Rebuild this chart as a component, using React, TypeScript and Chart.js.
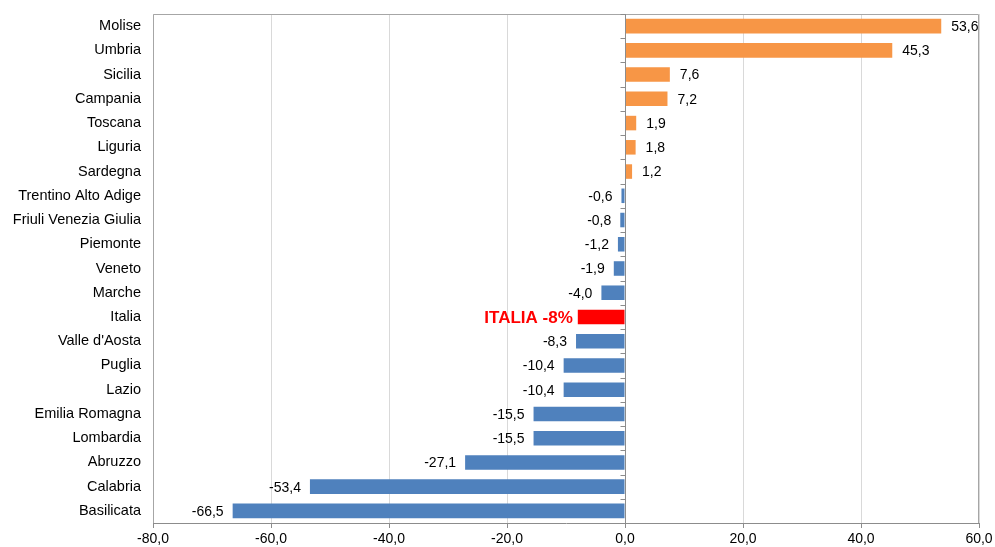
import React, { useEffect, useRef } from "react";
import { Chart, registerables } from "chart.js";

Chart.register(...registerables);

const categories = [
  "Molise", "Umbria", "Sicilia", "Campania", "Toscana", "Liguria", "Sardegna",
  "Trentino Alto Adige", "Friuli Venezia Giulia", "Piemonte", "Veneto", "Marche",
  "Italia", "Valle d'Aosta", "Puglia", "Lazio", "Emilia Romagna", "Lombardia",
  "Abruzzo", "Calabria", "Basilicata",
];
const values = [
  53.6, 45.3, 7.6, 7.2, 1.9, 1.8, 1.2, -0.6, -0.8, -1.2, -1.9, -4.0,
  -8, -8.3, -10.4, -10.4, -15.5, -15.5, -27.1, -53.4, -66.5,
];
const italiaLabel = "ITALIA -8%";
const xMin = -80;
const xMax = 60;
const xStep = 20;

const ORANGE = "#F79646";
const BLUE = "#4F81BD";
const RED = "#FF0000";
const FONT = "'Liberation Sans', Arial, sans-serif";

const fmt = (v: number, d: number) => v.toFixed(d).replace(".", ",");

const overlay = {
  id: "overlay",
  afterDatasetsDraw(chart: any) {
    const { ctx, chartArea, scales } = chart;
    const x = scales.x;
    const y = scales.y;
    ctx.save();
    // frame
    ctx.strokeStyle = "#a6a6a6";
    ctx.lineWidth = 1;
    ctx.beginPath();
    ctx.moveTo(chartArea.left + 0.5, chartArea.bottom);
    ctx.lineTo(chartArea.left + 0.5, chartArea.top + 0.5);
    ctx.lineTo(chartArea.right - 0.5, chartArea.top + 0.5);
    ctx.lineTo(chartArea.right - 0.5, chartArea.bottom);
    ctx.stroke();
    // zero axis with ticks
    const x0 = Math.round(x.getPixelForValue(0)) + 0.5;
    ctx.strokeStyle = "#8c8c8c";
    ctx.beginPath();
    ctx.moveTo(x0, chartArea.top);
    ctx.lineTo(x0, chartArea.bottom);
    const n = categories.length;
    const h = (chartArea.bottom - chartArea.top) / n;
    for (let i = 0; i <= n; i++) {
      const yy = Math.round(chartArea.top + i * h) + 0.5;
      ctx.moveTo(x0 - 5, yy);
      ctx.lineTo(x0, yy);
    }
    ctx.stroke();
    // value labels
    ctx.textBaseline = "middle";
    values.forEach((v, i) => {
      const px = x.getPixelForValue(v);
      const py = y.getPixelForValue(i);
      if (categories[i] === "Italia") {
        ctx.font = `bold 17px ${FONT}`;
        ctx.fillStyle = RED;
        ctx.textAlign = "right";
        ctx.fillText(italiaLabel, px - 5, py + 1);
      } else {
        ctx.font = `14px ${FONT}`;
        ctx.fillStyle = "#000";
        if (v >= 0) {
          ctx.textAlign = "left";
          ctx.fillText(fmt(v, 1), px + 10, py + 1);
        } else {
          ctx.textAlign = "right";
          ctx.fillText(fmt(v, 1), px - 9, py + 1);
        }
      }
    });
    ctx.restore();
  },
};

export default function App() {
  const ref = useRef<HTMLCanvasElement>(null);
  useEffect(() => {
    if (!ref.current) return;
    const colors = values.map((v, i) =>
      categories[i] === "Italia" ? RED : v >= 0 ? ORANGE : BLUE
    );
    const chart = new Chart(ref.current, {
      type: "bar",
      data: {
        labels: categories,
        datasets: [
          {
            data: values,
            backgroundColor: colors,
            borderWidth: 0,
            barPercentage: 0.6,
            categoryPercentage: 1,
          },
        ],
      },
      options: {
        indexAxis: "y",
        animation: false,
        responsive: true,
        maintainAspectRatio: false,
        layout: { padding: { top: 14, right: 16, left: 0, bottom: 0 } },
        plugins: {
          legend: { display: false },
          tooltip: { enabled: false },
        },
        scales: {
          x: {
            min: xMin,
            max: xMax,
            ticks: {
              stepSize: xStep,
              color: "#000",
              font: { family: FONT, size: 14 },
              padding: 3,
              maxRotation: 0,
              callback: (v: any) => fmt(Number(v), 1),
            },
            grid: {
              color: "#d9d9d9",
              tickColor: "#8c8c8c",
              tickLength: 5,
              drawTicks: true,
            },
            border: { color: "#8c8c8c" },
            afterFit: (s: any) => {
              s.height = 24;
              s.paddingLeft = 0;
              s.paddingRight = 0;
            },
          },
          y: {
            ticks: {
              color: "#000",
              font: { family: FONT, size: 14.5 },
              padding: 12,
              autoSkip: false,
            },
            grid: { display: false, drawTicks: false },
            border: { display: false },
            afterFit: (s: any) => {
              s.width = 153;
              s.paddingTop = 0;
              s.paddingBottom = 0;
            },
          },
        },
      },
      plugins: [overlay],
    });
    return () => chart.destroy();
  }, []);
  return (
    <div style={{ position: "absolute", left: 0, top: 0, width: 995, height: 547, background: "#fff" }}>
      <canvas ref={ref} />
    </div>
  );
}
